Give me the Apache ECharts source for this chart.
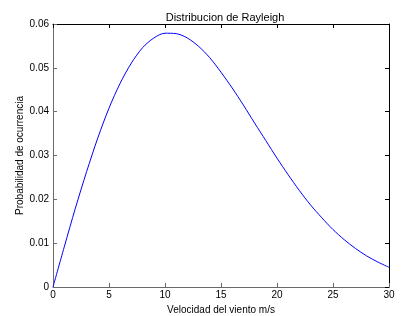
<!DOCTYPE html>
<html>
<head>
<meta charset="utf-8">
<script src="https://cdn.jsdelivr.net/npm/echarts@6/dist/echarts.min.js"></script>
<style>
  html, body { margin: 0; padding: 0; background: #fff; }
  #chart { width: 401px; height: 316px; }
</style>
</head>
<body>
<div id="chart"></div>
<script>
// velocidad del viento (m/s) y probabilidad
const velocidad = [0, 1, 2, 3, 4, 5, 6, 7, 8, 9, 10, 11, 12, 13, 14, 15,
  16, 17, 18, 19, 20, 21, 22, 23, 24, 25, 26, 27, 28, 29, 30]
const probabilidad = [0, 0.0091, 0.0180, 0.0263, 0.0340, 0.0408, 0.0465, 0.0511,
  0.0546, 0.0568, 0.0579, 0.0578, 0.0568, 0.0549, 0.0523, 0.0490, 0.0454,
  0.0415, 0.0374, 0.0334, 0.0294, 0.0256, 0.0220, 0.0187, 0.0158, 0.0131,
  0.0108, 0.0088, 0.0071, 0.0057, 0.0045]
const xTicks = [0, 5, 10, 15, 20, 25, 30]
const yTicks = ['0', '0.01', '0.02', '0.03', '0.04', '0.05', '0.06']

const font = 'Liberation Sans, Arial, sans-serif'
const chart = echarts.init(document.getElementById('chart'))

const hiddenAxis = (color) => ({
  axisLine: { show: true, onZero: false, lineStyle: { color, width: 1 } },
  axisTick: { show: true, inside: true, length: 4, lineStyle: { color } },
  axisLabel: { show: false },
  splitLine: { show: false },
})

chart.setOption({
  animation: false,
  title: {
    text: 'Distribucion de Rayleigh',
    left: 220,
    top: 7,
    textAlign: 'center',
    textStyle: { fontFamily: font, fontSize: 11, fontWeight: 'normal', color: '#000' },
  },
  grid: { left: 53, right: 12, top: 24, bottom: 29, outerBoundsMode: 'none' },
  xAxis: [
    {
      type: 'value',
      min: xTicks[0],
      max: xTicks[xTicks.length - 1],
      interval: 5,
      name: 'Velocidad del viento m/s',
      nameLocation: 'middle',
      nameGap: 16,
      nameTextStyle: { fontFamily: font, fontSize: 10, color: '#000' },
      axisLine: { onZero: false, lineStyle: { color: '#6a6a6a', width: 1 } },
      axisTick: { inside: true, length: 4, lineStyle: { color: '#6a6a6a' } },
      axisLabel: { fontFamily: font, fontSize: 10, color: '#000', margin: 3 },
      splitLine: { show: false },
    },
    {
      type: 'value',
      position: 'top',
      min: xTicks[0],
      max: xTicks[xTicks.length - 1],
      interval: 5,
      ...hiddenAxis('#000'),
    },
  ],
  yAxis: [
    {
      type: 'value',
      min: 0,
      max: 0.06,
      interval: 0.01,
      name: 'Probabilidad de ocurrencia',
      nameLocation: 'middle',
      nameGap: 28,
      nameMoveOverlap: false,
      nameTextStyle: { fontFamily: font, fontSize: 10, color: '#000' },
      axisLine: { show: true, onZero: false, lineStyle: { color: '#6a6a6a', width: 1 } },
      axisTick: { show: true, inside: true, length: 4, lineStyle: { color: '#6a6a6a' } },
      axisLabel: {
        fontFamily: font,
        fontSize: 10,
        color: '#000',
        margin: 4,
        formatter: (v) => yTicks[Math.round(v * 100)],
      },
      splitLine: { show: false },
    },
    {
      type: 'value',
      position: 'right',
      min: 0,
      max: 0.06,
      interval: 0.01,
      ...hiddenAxis('#000'),
    },
  ],
  series: [
    {
      type: 'line',
      data: velocidad.map((v, i) => [v, probabilidad[i]]),
      showSymbol: false,
      smooth: 0.3,
      lineStyle: { color: '#0000ff', width: 1 },
    },
  ],
})
</script>
</body>
</html>
